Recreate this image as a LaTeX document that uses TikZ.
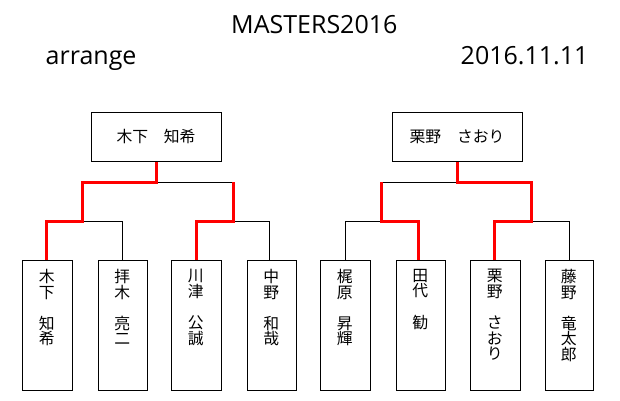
\documentclass[tikz,border=0pt]{standalone}
\usepackage{fontspec}
\setmainfont{Open Sans}
\newfontfamily\jpfont{Noto Sans CJK JP}
\lineskiplimit=-20pt
\begin{document}
\begin{tikzpicture}[x=1pt,y=-1pt,
  title/.style={inner sep=0pt,font=\fontsize{25}{25}\selectfont},
  champ/.style={draw=black,line width=1pt,minimum width=130pt,minimum height=49pt,inner sep=0pt,
    font=\jpfont\fontsize{15.8}{15.8}\selectfont},
  player/.style={draw=black,line width=1pt,minimum height=130pt,inner sep=0pt},
  vname/.style={inner sep=0pt,anchor=north,align=center,
    font=\jpfont\fontsize{15.8}{15.6}\selectfont},
  lose/.style={draw=black,line width=1pt},
  win/.style={draw=red,line width=3pt}]
\useasboundingbox (0,0) rectangle (620,400);
\fill[white] (0,0) rectangle (620,400);
% titles
\node[title,anchor=base west] (ttl) at (231,33) {MASTERS2016};
\node[title,anchor=base west] (arr) at (45.5,64) {arrange};
\node[title,anchor=base west] (dat) at (460.5,64) {2016.11.11};
% champions
\node[champ] (t1) at (156,136.5) {木下　知希};
\node[champ] (t2) at (457,136.5) {栗野　さおり};
% players
\node[player,minimum width=50pt] (b1) at (47.3,325) {};
\node[player,minimum width=49pt] (b2) at (122.8,325) {};
\node[player,minimum width=50pt] (b3) at (196.3,325) {};
\node[player,minimum width=49pt] (b4) at (271.8,325) {};
\node[player,minimum width=50pt] (b5) at (345.3,325) {};
\node[player,minimum width=49pt] (b6) at (420.8,325) {};
\node[player,minimum width=50pt] (b7) at (495.3,325) {};
\node[player,minimum width=48pt] (b8) at (569.3,325) {};
\node[vname] (n1) at (46.8,269) {木\\下\\　\\知\\希};
\node[vname] (n2) at (122.3,269) {拝\\木\\　\\亮\\二};
\node[vname] (n3) at (195.8,269) {川\\津\\　\\公\\誠};
\node[vname] (n4) at (271.3,269) {中\\野\\　\\和\\哉};
\node[vname] (n5) at (344.8,269) {梶\\原\\　\\昇\\輝};
\node[vname] (n6) at (420.3,269) {田\\代\\　\\勧};
\node[vname] (n7) at (494.8,269) {栗\\野\\　\\さ\\お\\り};
\node[vname] (n8) at (568.8,269) {藤\\野\\　\\竜\\太\\郎};
% joints
\coordinate (la) at (82,182);   \coordinate (lad) at (82,221);
\coordinate (lb) at (233,182);  \coordinate (lbd) at (233,221);
\coordinate (ra) at (381,182);  \coordinate (rad) at (381,221);
\coordinate (rb) at (531,182);  \coordinate (rbd) at (531,221);
% losing lines
\draw[lose] ([yshift=-0.8pt]t1.south |- lb) -- ([yshift=-0.8pt]lb);
\draw[lose] (lad) -| (b2.north);
\draw[lose] (lbd) -| ([xshift=-2.5pt]b4.north);
\draw[lose] ([yshift=-0.8pt]t2.south |- ra) -- ([yshift=-0.8pt]ra);
\draw[lose] (rad) -| (b5.north);
\draw[lose] (rbd) -| (b8.north);
% winning lines
\draw[win] (t1.south) |- (la) -- (lad) -| ([xshift=-1pt]b1.north);
\draw[win] (lb) -- (lbd) -| (b3.north);
\draw[win] (t2.south) |- (rb) -- (rbd) -| ([xshift=-1pt]b7.north);
\draw[win] (ra) -- (rad) -| ([xshift=-2pt]b6.north);
\end{tikzpicture}
\end{document}
